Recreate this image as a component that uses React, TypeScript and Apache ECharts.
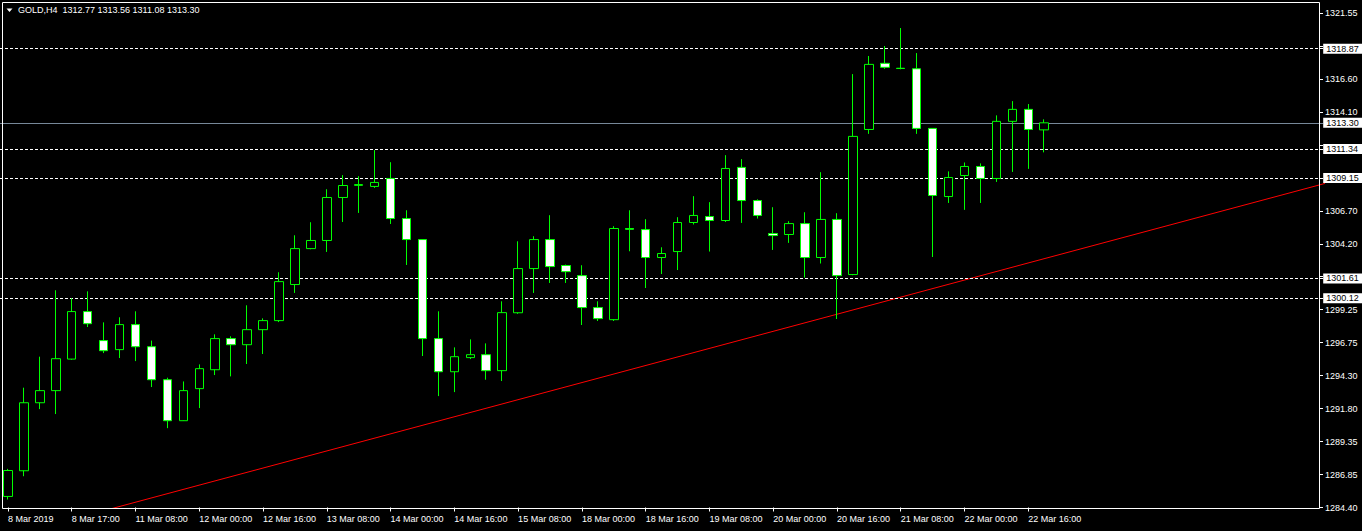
import React, { useEffect, useRef } from 'react';
import * as echarts from 'echarts';

const symbolName = 'GOLD,H4';

const xTickLabels = [
  '8 Mar 2019', '8 Mar 17:00', '11 Mar 08:00', '12 Mar 00:00', '12 Mar 16:00',
  '13 Mar 08:00', '14 Mar 00:00', '14 Mar 16:00', '15 Mar 08:00', '18 Mar 00:00',
  '18 Mar 16:00', '19 Mar 08:00', '20 Mar 00:00', '20 Mar 16:00', '21 Mar 08:00',
  '22 Mar 00:00', '22 Mar 16:00',
];
const slotCount = 83; // bar slots shown on the chart (right part is empty shift space)
const labelEvery = 4;

const opens = [
  1285.23, 1287.16, 1292.27, 1293.18, 1295.55, 1299.12, 1296.94, 1296.26, 1298.14, 1296.48,
  1294.00, 1290.92, 1293.33, 1294.75, 1297.09, 1296.63, 1297.76, 1298.44, 1301.15, 1303.85,
  1304.46, 1307.69, 1308.60, 1308.52, 1309.12, 1306.11, 1304.53, 1297.09, 1294.60, 1295.66,
  1295.88, 1294.68, 1299.03, 1302.35, 1304.53, 1302.58, 1301.82, 1299.42, 1298.51, 1305.36,
  1305.28, 1303.18, 1303.63, 1305.81, 1306.26, 1305.96, 1309.95, 1307.46, 1304.98, 1304.91,
  1305.73, 1303.18, 1306.04, 1301.90, 1312.80, 1317.77, 1317.40, 1317.36, 1312.88, 1307.76,
  1309.34, 1310.02, 1309.12, 1313.41, 1314.31, 1312.77,
];
const closes = [
  1287.18, 1292.27, 1293.18, 1295.58, 1299.12, 1298.21, 1296.18, 1298.14, 1296.48, 1294.00,
  1290.92, 1293.18, 1294.83, 1297.09, 1296.63, 1297.76, 1298.44, 1301.37, 1303.85, 1304.46,
  1307.69, 1308.59, 1308.66, 1308.82, 1306.11, 1304.53, 1297.09, 1294.60, 1295.73, 1295.88,
  1294.68, 1299.04, 1302.35, 1304.53, 1302.50, 1302.12, 1299.42, 1298.59, 1305.36, 1305.30,
  1303.18, 1303.48, 1305.81, 1306.34, 1305.96, 1309.87, 1307.46, 1306.34, 1304.83, 1305.73,
  1303.18, 1306.04, 1301.82, 1312.28, 1317.69, 1317.47, 1317.38, 1312.88, 1307.84, 1309.19,
  1310.02, 1309.12, 1313.41, 1314.31, 1312.80, 1313.30,
];
const lows = [
  1285.00, 1286.75, 1291.79, 1291.42, 1295.50, 1297.96, 1296.00, 1295.63, 1295.40, 1293.45,
  1290.36, 1290.90, 1291.87, 1294.35, 1294.25, 1295.18, 1295.93, 1298.33, 1300.52, 1303.80,
  1303.60, 1305.85, 1306.53, 1308.41, 1305.70, 1302.62, 1295.78, 1292.77, 1293.07, 1295.55,
  1294.00, 1293.90, 1298.95, 1300.52, 1301.27, 1301.27, 1298.11, 1298.41, 1298.41, 1303.65,
  1300.89, 1301.94, 1302.24, 1305.66, 1303.63, 1305.85, 1305.78, 1306.11, 1303.75, 1304.28,
  1301.67, 1302.73, 1298.56, 1301.85, 1312.47, 1317.36, 1317.32, 1312.47, 1303.22, 1307.28,
  1306.76, 1307.28, 1308.86, 1309.61, 1309.84, 1311.08,
];
const highs = [
  1287.30, 1293.40, 1295.73, 1300.72, 1300.12, 1300.64, 1298.31, 1298.69, 1299.14, 1296.94,
  1294.15, 1293.87, 1295.15, 1297.41, 1297.26, 1299.59, 1298.61, 1302.07, 1304.85, 1305.83,
  1308.31, 1309.37, 1309.29, 1311.25, 1310.34, 1306.73, 1304.55, 1299.14, 1296.43, 1297.03,
  1296.73, 1299.89, 1304.40, 1304.78, 1306.36, 1302.65, 1302.60, 1299.89, 1305.53, 1306.73,
  1306.06, 1303.95, 1306.21, 1307.79, 1307.34, 1310.87, 1310.57, 1307.55, 1306.96, 1305.91,
  1306.58, 1309.59, 1306.51, 1316.96, 1318.32, 1319.07, 1320.42, 1318.54, 1312.90, 1309.65,
  1310.32, 1310.25, 1313.86, 1314.93, 1314.71, 1313.56,
];

const yMin = 1284.4;
const yMax = 1321.55;
const yTickLabels = [
  '1284.40', '1286.85', '1289.35', '1291.80', '1294.30', '1296.75', '1299.25', '1301.70',
  '1304.20', '1306.70', '1309.15', '1311.65', '1314.10', '1316.60', '1319.05', '1321.55',
];
const hiddenYTicks = [7, 10, 11, 14]; // covered by level price boxes

const levelPrices = [1318.87, 1311.34, 1309.15, 1301.61, 1300.12];
const bidPrice = 1313.3;

const trendBarIndex = [0, 83];
const trendPrice = [1282.23, 1308.87];

const FONT = 'Liberation Sans';

export default function App() {
  const ref = useRef<HTMLDivElement>(null);

  useEffect(() => {
    document.body.style.margin = '0';
    document.body.style.background = '#000';
    if (!ref.current) return;
    const chart = echarts.init(ref.current, undefined, { renderer: 'svg' });

    const categories = Array.from({ length: slotCount }, (_, i) => 'b' + i);
    const labelFor = (i: number) =>
      i % labelEvery === 0 && i / labelEvery < xTickLabels.length ? xTickLabels[i / labelEvery] : '';
    const candles = opens.map((o, i) => [o, closes[i], lows[i], highs[i]]);
    const interval = (yMax - yMin) / (yTickLabels.length - 1);

    const last = opens.length - 1;
    const title = `${symbolName}  ${opens[last].toFixed(2)} ${highs[last].toFixed(2)} ${lows[last].toFixed(2)} ${closes[last].toFixed(2)}`;

    const levelLabel = {
      show: true,
      position: 'end',
      distance: 0,
      formatter: (p: any) => Number(p.value).toFixed(2),
      color: '#000',
      backgroundColor: '#fff',
      fontFamily: FONT,
      fontSize: 9,
      lineHeight: 9,
      padding: [1, 6, 0, 3],
    };

    chart.setOption({
      animation: false,
      backgroundColor: '#000',
      grid: { left: -4.8, top: 13, width: slotCount * 16, height: 494.5, containLabel: false },
      xAxis: [
        {
          type: 'category',
          data: categories,
          boundaryGap: true,
          axisLine: { show: false, onZero: false },
          axisTick: {
            show: true,
            alignWithLabel: true,
            length: 4,
            interval: (i: number) => labelFor(i) !== '',
            lineStyle: { color: '#fff', width: 1 },
          },
          axisLabel: {
            show: true,
            interval: (i: number) => labelFor(i) !== '',
            formatter: (_v: string, i: number) => labelFor(i),
            align: 'left',
            margin: 7,
            color: '#fff',
            fontFamily: FONT,
            fontSize: 9,
          },
          splitLine: { show: false },
        },
        {
          type: 'value',
          min: -0.5,
          max: slotCount - 0.5,
          show: false,
          axisLine: { onZero: false },
        },
      ],
      yAxis: {
        type: 'value',
        position: 'right',
        offset: -4.2,
        min: yMin,
        max: yMax,
        interval,
        scale: true,
        axisLine: { show: false, onZero: false },
        axisTick: { show: true, length: 4, lineStyle: { color: '#fff' } },
        axisLabel: {
          margin: 6,
          color: '#fff',
          fontFamily: FONT,
          fontSize: 9,
          formatter: (v: number) => {
            const k = Math.round((v - yMin) / interval);
            return hiddenYTicks.includes(k) ? '' : yTickLabels[k] ?? '';
          },
        },
        splitLine: { show: false },
      },
      series: [
        {
          type: 'line',
          xAxisIndex: 1,
          data: trendBarIndex.map((x, i) => [x, trendPrice[i]]),
          symbol: 'none',
          clip: true,
          lineStyle: { color: '#ff0000', width: 1 },
          silent: true,
          z: 1,
        },
        {
          type: 'candlestick',
          xAxisIndex: 0,
          data: candles,
          barWidth: 9,
          z: 3,
          itemStyle: {
            color: '#000000',
            color0: '#ffffff',
            borderColor: '#00ff00',
            borderColor0: '#00ff00',
            borderColorDoji: '#00ff00',
            borderWidth: 1,
          },
          markLine: {
            silent: true,
            symbol: ['none', 'none'],
            precision: 2,
            z: 2,
            lineStyle: { color: '#ffffff', type: [3, 2], width: 1 },
            label: levelLabel,
            data: [
              ...levelPrices.map((v) => ({ yAxis: v })),
              { yAxis: bidPrice, lineStyle: { color: '#778899', type: 'solid', width: 1 } },
            ],
          },
        },
      ],
      graphic: [
        {
          type: 'rect',
          z: 50,
          silent: true,
          shape: { x: 2.5, y: 2.5, width: 1317, height: 506 },
          style: { fill: 'none', stroke: '#ffffff', lineWidth: 1 },
        },
        {
          type: 'polygon',
          z: 50,
          silent: true,
          shape: { points: [[6.5, 8.5], [12.5, 8.5], [9.5, 12]] },
          style: { fill: '#ffffff' },
        },
        {
          type: 'text',
          z: 50,
          silent: true,
          x: 18,
          y: 10,
          style: {
            text: title,
            fill: '#ffffff',
            font: `9px "${FONT}"`,
            verticalAlign: 'middle',
            align: 'left',
          },
        },
      ],
    });

    return () => chart.dispose();
  }, []);

  return <div ref={ref} style={{ width: 1362, height: 531, background: '#000' }} />;
}
